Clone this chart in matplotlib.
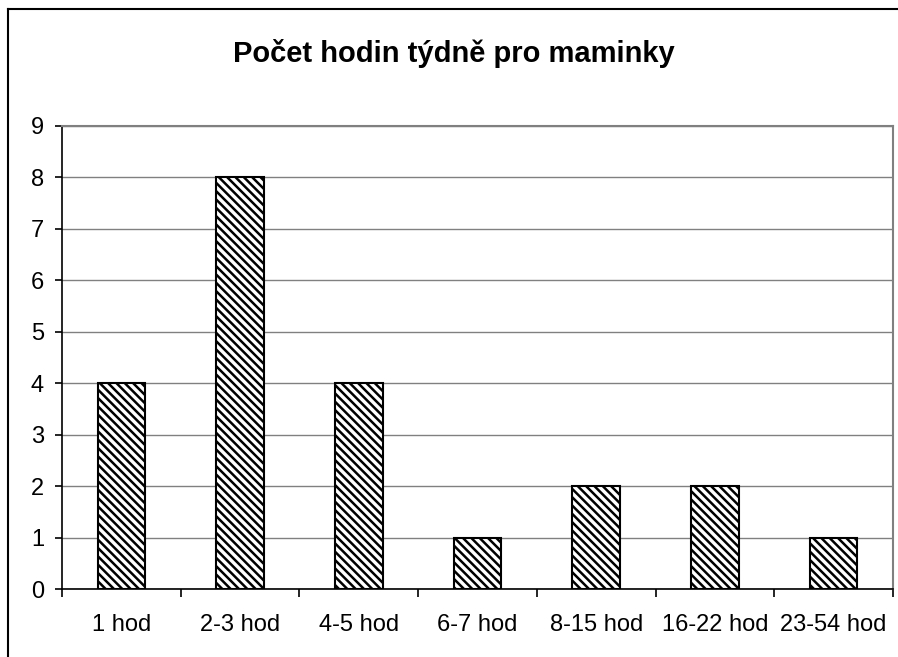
import numpy as np
import matplotlib
matplotlib.use("Agg")
import matplotlib.pyplot as plt
from matplotlib.lines import Line2D

categories = ["1 hod", "2-3 hod", "4-5 hod", "6-7 hod", "8-15 hod", "16-22 hod", "23-54 hod"]
counts = [4, 8, 4, 1, 2, 2, 1]
title = "Počet hodin týdně pro maminky"

plt.rcParams["font.family"] = ["Liberation Sans", "DejaVu Sans"]
plt.rcParams["hatch.linewidth"] = 1.8

fig = plt.figure(figsize=(8.98, 6.57), dpi=100)
ax = fig.add_axes([62 / 898, 68 / 657, 831 / 898, 463 / 657])

x = np.arange(len(categories))
ax.bar(x, counts, width=0.4, color="white", edgecolor="black",
       linewidth=1.5, hatch="\\" * 4, zorder=3)

ax.set_xlim(-0.5, len(categories) - 0.5)
ax.set_ylim(0, 9)
ax.set_yticks(range(0, 10))
ax.yaxis.grid(True, color="#808080", linewidth=1.0, zorder=0)

# ticks at category boundaries, labels at centres
ax.set_xticks(np.arange(-0.5, len(categories), 1.0))
ax.set_xticklabels([])
ax.set_xticks(x, minor=True)
ax.set_xticklabels(categories, minor=True)
ax.tick_params(axis="x", which="major", direction="out", length=6, width=1.2)
ax.tick_params(axis="x", which="minor", length=0, pad=18, labelsize=17)
ax.tick_params(axis="y", direction="out", length=5, width=1.2, pad=8, labelsize=17)

for side in ["top", "right"]:
    ax.spines[side].set_color("#808080")
    ax.spines[side].set_linewidth(1.5)
for side in ["left", "bottom"]:
    ax.spines[side].set_color("black")
    ax.spines[side].set_linewidth(1.2)

fig.text(454 / 898, 1 - 53 / 657, title, ha="center", va="center",
         fontsize=21, fontweight="bold")

# outer chart border (left and top edges visible)
fig.add_artist(Line2D([8 / 898, 8 / 898], [0, 1 - 9 / 657], color="black", linewidth=1.5))
fig.add_artist(Line2D([8 / 898, 1], [1 - 9 / 657, 1 - 9 / 657], color="black", linewidth=1.5))

fig.savefig("out.png", dpi=100)
